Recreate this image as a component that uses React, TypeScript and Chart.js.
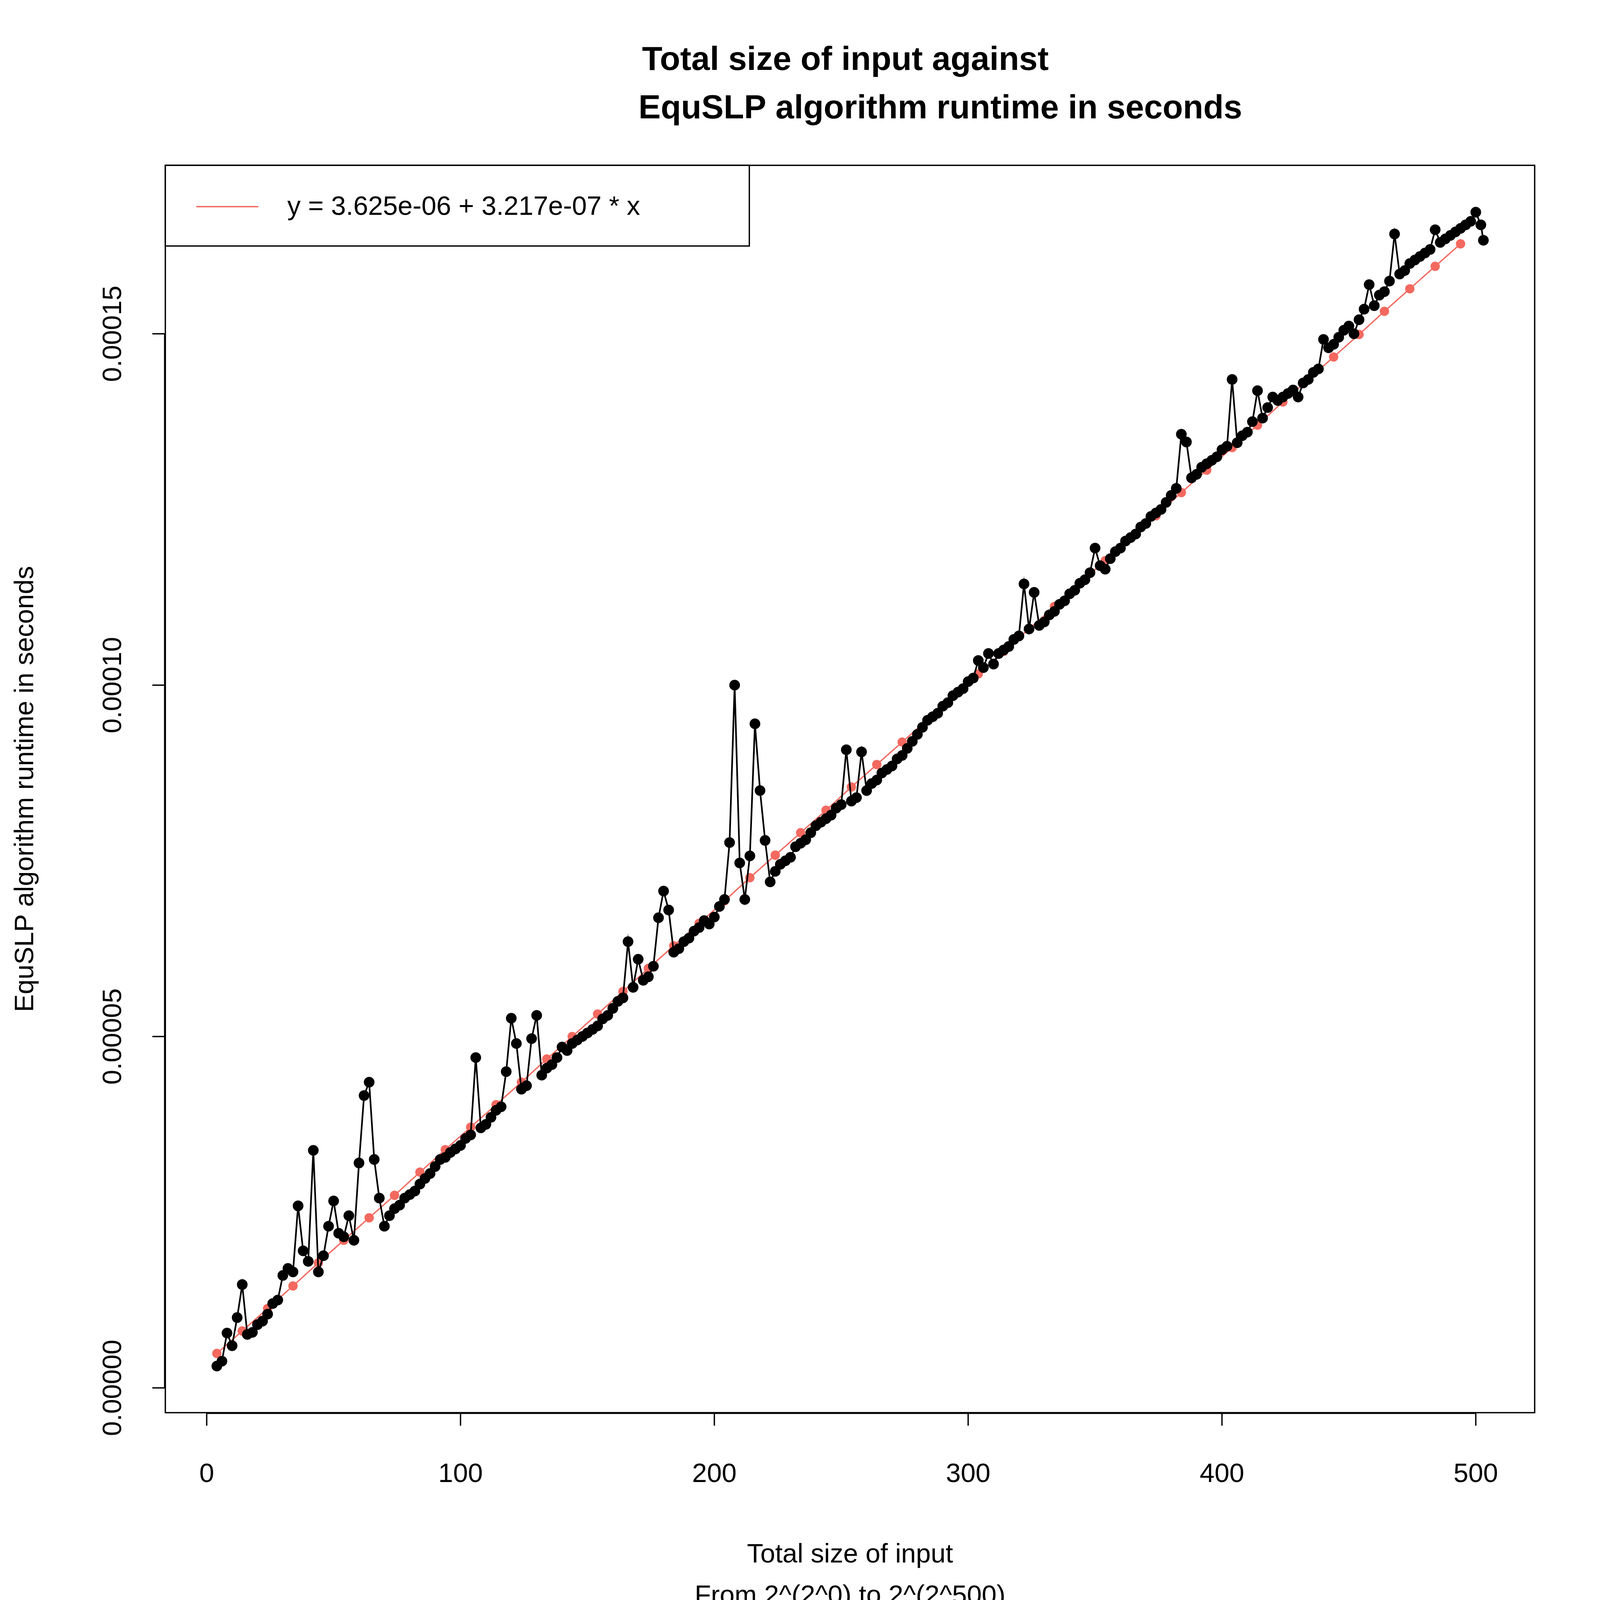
import { useEffect, useRef } from 'react'
import { Chart, registerables } from 'chart.js'
import type { Plugin } from 'chart.js'

Chart.register(...registerables)

// runtime values in microseconds (scaled by 1e-6 below)
const runtimeX: number[] = [...Array.from({ length: 250 }, (_, i) => 4 + i * 2), 503]
const runtimeUs: number[] = [
  3.1, 3.8, 7.8, 6.0, 10.0, 14.7, 7.6, 7.9, 9.0, 9.5,
  10.5, 12.0, 12.5, 16.0, 17.0, 16.5, 25.9, 19.5, 18.0, 33.8,
  16.5, 18.8, 23.0, 26.6, 22.0, 21.5, 24.5, 21.0, 32.0, 41.6,
  43.5, 32.5, 27.0, 23.0, 24.5, 25.5, 26.0, 27.0, 27.5, 28.0,
  29.0, 29.8, 30.5, 31.5, 32.5, 32.8, 33.5, 34.0, 34.5, 35.5,
  36.0, 47.0, 37.0, 37.5, 38.5, 39.5, 40.0, 45.0, 52.6, 49.0,
  42.5, 43.0, 49.7, 53.0, 44.5, 45.5, 46.0, 47.0, 48.5, 48.0,
  49.0, 49.5, 50.0, 50.5, 51.0, 51.5, 52.5, 53.0, 54.0, 55.0,
  55.5, 63.5, 57.0, 61.0, 58.0, 58.5, 60.0, 66.9, 70.7, 68.0,
  62.0, 62.5, 63.5, 64.0, 65.0, 65.5, 66.5, 66.0, 67.0, 68.5,
  69.5, 77.6, 100.0, 74.7, 69.5, 75.7, 94.5, 85.0, 77.9, 72.0,
  73.5, 74.5, 75.0, 75.5, 77.0, 77.5, 78.0, 79.0, 80.0, 80.5,
  81.0, 81.5, 82.5, 83.0, 90.8, 83.5, 84.0, 90.5, 85.0, 86.0,
  86.5, 87.5, 88.0, 88.5, 89.5, 90.0, 91.0, 92.0, 93.0, 94.0,
  95.0, 95.5, 96.0, 97.0, 97.5, 98.5, 99.0, 99.5, 100.5, 101.0,
  103.5, 102.5, 104.5, 103.0, 104.5, 105.0, 105.5, 106.5, 107.0, 114.4,
  108.0, 113.2, 108.5, 109.0, 110.0, 110.5, 111.5, 112.0, 113.0, 113.5,
  114.5, 115.0, 116.0, 119.5, 117.0, 116.5, 118.0, 119.0, 119.5, 120.5,
  121.0, 121.5, 122.5, 123.0, 124.0, 124.5, 125.0, 126.0, 127.0, 128.0,
  135.7, 134.6, 129.5, 130.0, 131.0, 131.5, 132.0, 132.5, 133.5, 134.0,
  143.5, 134.5, 135.5, 136.0, 137.5, 141.9, 138.0, 139.5, 141.0, 140.5,
  141.0, 141.5, 142.0, 141.0, 143.0, 143.5, 144.5, 145.0, 149.2, 148.0,
  148.5, 149.5, 150.5, 151.1, 150.0, 152.0, 153.5, 157.0, 154.0, 155.5,
  156.0, 157.5, 164.2, 158.5, 159.0, 160.0, 160.5, 161.0, 161.5, 162.0,
  164.8, 163.0, 163.5, 164.0, 164.5, 165.0, 165.5, 166.0, 167.3, 165.5,
  163.3,
]

const fitX: number[] = Array.from({ length: 50 }, (_, i) => 4 + i * 10)
const fitUs: number[] = [
  4.9, 8.1, 11.3, 14.5, 17.8, 21.0, 24.2, 27.4, 30.7, 33.9,
  37.1, 40.3, 43.5, 46.8, 50.0, 53.2, 56.4, 59.7, 62.9, 66.1,
  69.3, 72.6, 75.8, 79.0, 82.2, 85.5, 88.7, 91.9, 95.1, 98.4,
  101.6, 104.8, 108.0, 111.2, 114.5, 117.7, 120.9, 124.1, 127.4, 130.6,
  133.8, 137.0, 140.3, 143.5, 146.7, 149.9, 153.2, 156.4, 159.6, 162.8,
]

const xTicks = [0, 100, 200, 300, 400, 500]
const yTicks = [0, 0.00005, 0.0001, 0.00015]
const yTickLabels = ['0.00000', '0.00005', '0.00010', '0.00015']
const legendText = 'y = 3.625e-06 + 3.217e-07 * x'
const fitColor = '#F4695F'
const FONT = '"Liberation Sans", Arial, sans-serif'

function makePlugin(s: number): Plugin {
  const p = (v: number) => v * s
  return {
    id: 'rStyle',
    afterDraw(chart) {
      const { ctx, chartArea: a } = chart
      const xs = chart.scales.x
      const ys = chart.scales.y
      ctx.save()
      ctx.strokeStyle = '#000'
      ctx.fillStyle = '#000'
      ctx.lineWidth = p(4)
      ctx.strokeRect(a.left, a.top, a.right - a.left, a.bottom - a.top)

      // x axis
      const tick = p(37)
      const xb = a.bottom + p(2)
      ctx.beginPath()
      ctx.moveTo(xs.getPixelForValue(xTicks[0]), xb)
      ctx.lineTo(xs.getPixelForValue(xTicks[xTicks.length - 1]), xb)
      xTicks.forEach(v => {
        const px = xs.getPixelForValue(v)
        ctx.moveTo(px, xb)
        ctx.lineTo(px, xb + tick)
      })
      ctx.stroke()
      ctx.font = `${p(80)}px ${FONT}`
      ctx.textAlign = 'center'
      ctx.textBaseline = 'middle'
      xTicks.forEach(v => ctx.fillText(String(v), xs.getPixelForValue(v), p(4424)))

      // y axis
      const yl = a.left - p(2)
      ctx.beginPath()
      ctx.moveTo(yl, ys.getPixelForValue(yTicks[0]))
      ctx.lineTo(yl, ys.getPixelForValue(yTicks[yTicks.length - 1]))
      yTicks.forEach(v => {
        const py = ys.getPixelForValue(v)
        ctx.moveTo(yl, py)
        ctx.lineTo(yl - tick, py)
      })
      ctx.stroke()
      yTicks.forEach((v, i) => {
        ctx.save()
        ctx.translate(p(341), ys.getPixelForValue(v))
        ctx.rotate(-Math.PI / 2)
        ctx.fillText(yTickLabels[i], 0, 0)
        ctx.restore()
      })

      // axis titles
      ctx.fillText('Total size of input', p(2550), p(4666))
      ctx.fillText('From 2^(2^0) to 2^(2^500)', p(2550), p(4790))
      ctx.save()
      ctx.translate(p(78), (a.top + a.bottom) / 2)
      ctx.rotate(-Math.PI / 2)
      ctx.fillText('EquSLP algorithm runtime in seconds', 0, 0)
      ctx.restore()

      // title
      ctx.font = `bold ${p(100)}px ${FONT}`
      ctx.fillText('Total size of input against', p(2536), p(182))
      ctx.fillText('EquSLP algorithm runtime in seconds', p(2821), p(328))

      // legend
      ctx.lineWidth = p(4)
      ctx.strokeRect(a.left, a.top, p(2248) - a.left, p(738) - a.top)
      ctx.strokeStyle = fitColor
      ctx.beginPath()
      ctx.moveTo(p(589), p(620))
      ctx.lineTo(p(775), p(620))
      ctx.stroke()
      ctx.font = `${p(80)}px ${FONT}`
      ctx.textAlign = 'left'
      ctx.fillText(legendText, p(862), p(622))
      ctx.restore()
    },
  }
}

export default function App() {
  const canvasRef = useRef<HTMLCanvasElement>(null)
  const W = typeof window !== 'undefined' ? window.innerWidth : 4800

  useEffect(() => {
    document.body.style.margin = '0'
    document.body.style.overflow = 'hidden'
    if (!canvasRef.current) return
    const s = W / 4800
    const chart = new Chart(canvasRef.current, {
      type: 'line',
      data: {
        datasets: [
          {
            data: runtimeX.map((x, i) => ({ x, y: runtimeUs[i] * 1e-6 })),
            borderColor: '#000',
            backgroundColor: '#000',
            borderWidth: 5 * s,
            pointRadius: 16 * s,
            pointBorderWidth: 0,
          },
          {
            data: fitX.map((x, i) => ({ x, y: fitUs[i] * 1e-6 })),
            borderColor: fitColor,
            backgroundColor: fitColor,
            borderWidth: 4 * s,
            pointRadius: 14 * s,
            pointBorderWidth: 0,
          },
        ],
      },
      options: {
        responsive: false,
        animation: false,
        layout: { padding: { left: 496 * s, right: 196 * s, top: 496 * s, bottom: 562 * s } },
        plugins: { legend: { display: false }, tooltip: { enabled: false } },
        scales: {
          x: { type: 'linear', min: -16.3, max: 523.2, display: false },
          y: { type: 'linear', min: -3.53e-6, max: 1.7397e-4, display: false },
        },
      },
      plugins: [makePlugin(s)],
    })
    return () => chart.destroy()
  }, [W])

  return (
    <div style={{ width: W, height: W, background: '#fff' }}>
      <canvas ref={canvasRef} width={W} height={W} style={{ width: W, height: W, display: 'block' }} />
    </div>
  )
}
